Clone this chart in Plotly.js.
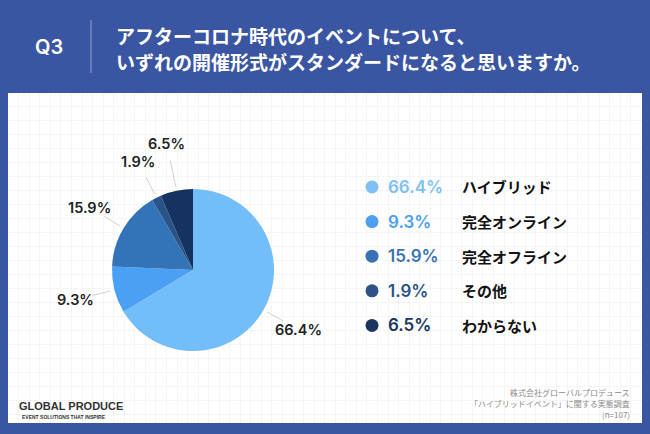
<!DOCTYPE html>
<html>
<head>
<meta charset="utf-8">
<script src="https://cdn.plot.ly/plotly-3.0.1.min.js"></script>
<style>html,body{margin:0;padding:0;background:#3a56a3;}#chart{width:650px;height:434px;}</style>
</head>
<body>
<div id="chart"></div>
<script>
// ---- data ----
const categories = ['ハイブリッド', '完全オンライン', '完全オフライン', 'その他', 'わからない'];
const values = [66.4, 9.3, 15.9, 1.9, 6.5];
const titleLines = ['アフターコロナ時代のイベントについて、', 'いずれの開催形式がスタンダードになると思いますか。'];
const questionLabel = 'Q3';
const sourceLines = ['株式会社グローバルプロデュース', '「ハイブリッドイベント」に関する実態調査', '(n=107)'];
const logoText = 'GLOBAL PRODUCE';
const logoTagline = 'EVENT SOLUTIONS THAT INSPIRE';

// ---- styles ----
const sliceColors = ['#73bdf8', '#4aa0f5', '#3373b8', '#2a5389', '#15335e'];
const legendColors = ['#7fc1f6', '#4f9ff2', '#3a72b5', '#2c5286', '#1b355f'];
const W = 650, H = 434;
const cx = 193, cy = 270, R = 81;
const JP = '"Noto Sans CJK JP", "Noto Sans", sans-serif';
const NUM = 'Inter, "Liberation Sans", sans-serif';
const px = x => x / W;
const py = y => 1 - y / H;

const total = values.reduce((a, b) => a + b, 0);

const annotations = [];
const shapes = [];

// pie outside labels and leader lines (labels pushed outward if they crowd the previous one)
let cum = 0;
let prev = null;
values.forEach((v, i) => {
  const mid = (cum + v / 2) / total * 2 * Math.PI;
  cum += v;
  const dx = Math.sin(mid), dy = -Math.cos(mid);
  let rl = 1.5;
  if (prev) {
    while (rl < 2.0) {
      const lx = cx + dx * R * rl, ly = cy + dy * R * rl;
      if (Math.abs(ly - prev.y) < 18 && Math.abs(lx - prev.x) < 40) rl += 0.02; else break;
    }
  }
  const lx = cx + dx * R * rl, ly = cy + dy * R * rl;
  prev = {x: lx, y: ly};
  shapes.push({type: 'line', xref: 'paper', yref: 'paper',
    x0: px(cx + dx * R * 1.05), y0: py(cy + dy * R * 1.05),
    x1: px(cx + dx * R * (rl - 0.22)), y1: py(cy + dy * R * (rl - 0.22)),
    line: {color: '#d0d0d0', width: 1}});
  annotations.push({xref: 'paper', yref: 'paper', showarrow: false,
    x: px(lx), y: py(ly),
    xanchor: 'center', yanchor: 'middle',
    text: v.toFixed(1) + '%',
    font: {family: NUM, size: 14.5, color: '#222', weight: 600}});
});

// custom legend
const legY0 = 187, legStep = 34.6;
categories.forEach((c, i) => {
  const y = legY0 + i * legStep;
  shapes.push({type: 'circle', xref: 'paper', yref: 'paper',
    x0: px(372 - 6.5), x1: px(372 + 6.5), y0: py(y + 6.5), y1: py(y - 6.5),
    fillcolor: legendColors[i], line: {width: 0}});
  annotations.push({xref: 'paper', yref: 'paper', showarrow: false,
    x: px(386), y: py(y), xanchor: 'left', yanchor: 'middle',
    text: values[i].toFixed(1) + '%',
    font: {family: NUM, size: 17, color: legendColors[i], weight: 600}});
  annotations.push({xref: 'paper', yref: 'paper', showarrow: false,
    x: px(460), y: py(y), xanchor: 'left', yanchor: 'middle',
    text: c,
    font: {family: JP, size: 15, color: '#111', weight: 700}});
});

// header
annotations.push({xref: 'paper', yref: 'paper', showarrow: false,
  x: px(49), y: py(47), xanchor: 'center', yanchor: 'middle',
  text: questionLabel, font: {family: NUM, size: 20, color: '#ffffff', weight: 600}});
shapes.push({type: 'line', xref: 'paper', yref: 'paper',
  x0: px(91), x1: px(91), y0: py(20), y1: py(73),
  line: {color: 'rgba(255,255,255,0.45)', width: 1}});
titleLines.forEach((t, i) => {
  annotations.push({xref: 'paper', yref: 'paper', showarrow: false,
    x: px(114), y: py(35 + i * 27), xanchor: 'left', yanchor: 'middle',
    text: t, font: {family: JP, size: 19, color: '#ffffff', weight: 700}});
});

// footer
sourceLines.forEach((t, i) => {
  annotations.push({xref: 'paper', yref: 'paper', showarrow: false,
    x: px(632), y: py(392 + i * 11), xanchor: 'right', yanchor: 'middle',
    text: t, font: {family: JP, size: 8, color: '#8a8a8a'}});
});
annotations.push({xref: 'paper', yref: 'paper', showarrow: false,
  x: px(17), y: py(406), xanchor: 'left', yanchor: 'middle',
  text: logoText, font: {family: '"Liberation Sans", sans-serif', size: 11, color: '#333', weight: 700}});
annotations.push({xref: 'paper', yref: 'paper', showarrow: false,
  x: px(20), y: py(416.5), xanchor: 'left', yanchor: 'middle',
  text: logoTagline, font: {family: '"Liberation Sans", sans-serif', size: 5, color: '#333', weight: 700}});

const data = [
  {type: 'scatter', x: [], y: [], hoverinfo: 'skip', showlegend: false},
  {type: 'pie', values: values, labels: categories, sort: false,
   direction: 'clockwise', rotation: 0,
   marker: {colors: sliceColors, line: {width: 0}},
   textinfo: 'none', hoverinfo: 'none', showlegend: false,
   domain: {x: [px(cx - R), px(cx + R)], y: [py(cy + R), py(cy - R)]}}
];

const layout = {
  width: W, height: H,
  margin: {l: 0, r: 0, t: 0, b: 0},
  paper_bgcolor: '#3a56a3',
  plot_bgcolor: '#ffffff',
  showlegend: false,
  xaxis: {domain: [px(8), px(642)], range: [0, 634], dtick: 10.55, tick0: 0.2,
    showgrid: true, gridcolor: '#f5f5f5', gridwidth: 1, zeroline: false,
    showticklabels: false, ticks: '', showline: false, fixedrange: true},
  yaxis: {domain: [py(423), py(93)], range: [330, 0], dtick: 14, tick0: 13,
    showgrid: true, gridcolor: '#f5f5f5', gridwidth: 1, zeroline: false,
    showticklabels: false, ticks: '', showline: false, fixedrange: true},
  shapes: shapes,
  annotations: annotations
};

Plotly.newPlot('chart', data, layout, {displayModeBar: false, staticPlot: true});
</script>
</body>
</html>
